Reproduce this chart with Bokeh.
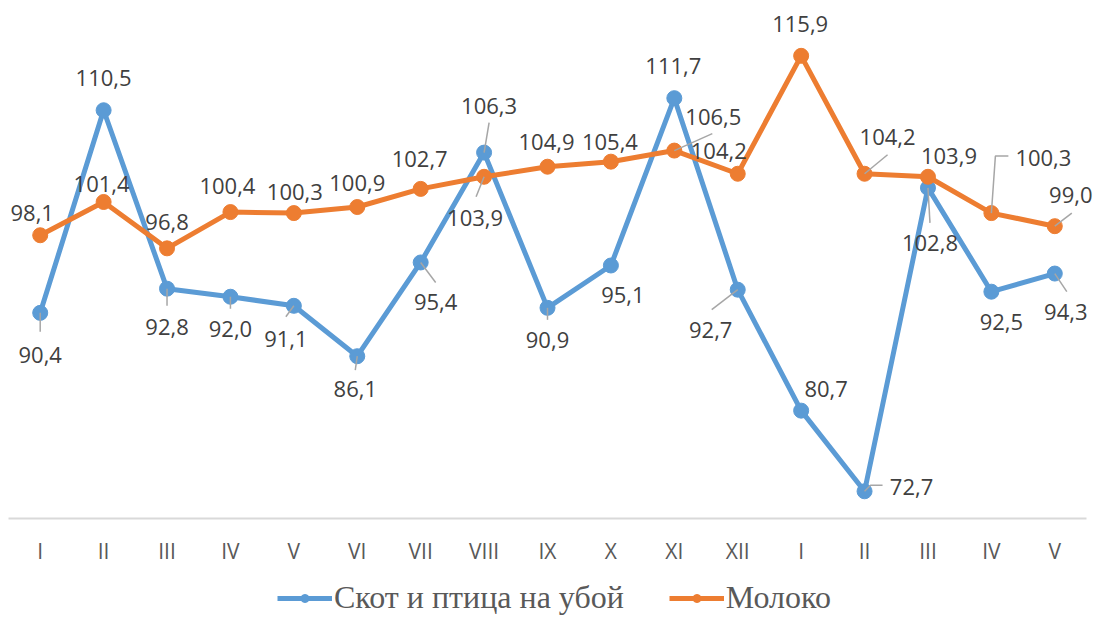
from bokeh.plotting import figure
from bokeh.models import Range1d, Legend, LegendItem, ColumnDataSource
from bokeh.core.properties import value
from bokeh.embed import file_html
from bokeh.resources import INLINE

# ---- data ----
categories = ["I", "II", "III", "IV", "V", "VI", "VII", "VIII", "IX", "X", "XI", "XII",
              "I", "II", "III", "IV", "V"]
livestock = [90.4, 110.5, 92.8, 92.0, 91.1, 86.1, 95.4, 106.3, 90.9, 95.1, 111.7, 92.7,
             80.7, 72.7, 102.8, 92.5, 94.3]
milk = [98.1, 101.4, 96.8, 100.4, 100.3, 100.9, 102.7, 103.9, 104.9, 105.4, 106.5, 104.2,
        115.9, 104.2, 103.9, 100.3, 99.0]
series_names = ["Скот и птица на убой", "Молоко"]
y_min, y_max = 70, 120

# ---- styles (label offsets in screen px, +dy = down) ----
blue_lab_dx = [0, 0, 0, 0, -8, -2, 15, 5, 0, 12, -1, -27, 25, 47, 2, 10, 11]
blue_lab_dy = [42, -32, 38, 32, 33, 33, 40, -47, 32, 30, -32, 40, -22, -4, 55, 30, 38]
milk_lab_dx = [-8, -2, 0, -3, 1, 0, -1, -9, -1, -1, 39, -19, -1, 23, 21, 52, 16]
milk_lab_dy = [-22, -18, -26, -26, -21, -24, -30, 41, -25, -20, -34, -23, -32, -37, -21, -55, -31]
blue_leaders = {0: [(0, 0), (0, 19)], 2: [(0, 0), (0, 17)], 3: [(0, 0), (0, 12)],
                4: [(0, 0), (-8, 11)], 5: [(0, 0), (-2, 14)], 6: [(0, 0), (15, 20)],
                7: [(0, 0), (5, -30)], 8: [(0, 0), (0, 12)], 11: [(0, 0), (-26, 20)],
                13: [(0, 0), (6, -6), (18, -6)], 14: [(0, 0), (2, 35)], 16: [(0, 0), (12, 18)]}
milk_leaders = {7: [(0, 0), (-8, 20)], 10: [(0, 0), (38, -17)], 13: [(0, 0), (23, -19)],
                15: [(0, 0), (4, -57), (17, -57)], 16: [(0, 0), (17, -13)]}

BLUE = "#5B9BD5"
ORANGE = "#ED7D31"
LABEL_FONT = "Open Sans"

# ---- layout (pixels) ----
W, H = 1097, 616
PLOT_L, PLOT_R = 8, 1086      # category band area
PLOT_T, PLOT_B = 14, 518      # y_max / y_min positions
n = len(categories)
px_x = (PLOT_R - PLOT_L) / n
px_y = (PLOT_B - PLOT_T) / (y_max - y_min)
x_start = -0.5 - PLOT_L / px_x
x_end = n - 0.5 + (W - PLOT_R) / px_x
y_top = y_max + PLOT_T / px_y
y_bot = y_min - (H - PLOT_B) / px_y

p = figure(width=W, height=H, x_range=Range1d(x_start, x_end), y_range=Range1d(y_bot, y_top),
           output_backend="svg", toolbar_location=None,
           x_axis_location=None, y_axis_location=None,
           min_border_left=0, min_border_right=0, min_border_top=0, min_border_bottom=0)
p.outline_line_color = None
p.xgrid.visible = False
p.ygrid.visible = False
p.background_fill_color = "white"
p.border_fill_color = "white"

xs = list(range(n))

# category axis: baseline across the category bands + tick labels
p.segment(x0=[-0.5], y0=[y_min], x1=[n - 0.5], y1=[y_min], line_color="#d9d9d9", line_width=2)
p.text(x=xs, y=[y_min] * n, text=categories, y_offset=32,
       text_align="center", text_baseline="middle",
       text_font=value("Open Sans"), text_font_size="21px", text_color="#595959")

src_b = ColumnDataSource(dict(x=xs, y=livestock,
                              lab=[f"{v:.1f}".replace(".", ",") for v in livestock],
                              dx=blue_lab_dx, dy=blue_lab_dy))
src_m = ColumnDataSource(dict(x=xs, y=milk,
                              lab=[f"{v:.1f}".replace(".", ",") for v in milk],
                              dx=milk_lab_dx, dy=milk_lab_dy))

lb = p.line("x", "y", source=src_b, line_color=BLUE, line_width=5)
sb = p.scatter("x", "y", source=src_b, size=15, fill_color=BLUE, line_color=BLUE)
lm = p.line("x", "y", source=src_m, line_color=ORANGE, line_width=5)
sm = p.scatter("x", "y", source=src_m, size=15, fill_color=ORANGE, line_color=ORANGE)


def leader_paths(vals, leaders):
    lx, ly = [], []
    for i, pts in leaders.items():
        lx.append([xs[i] + dx / px_x for dx, dy in pts])
        ly.append([vals[i] - dy / px_y for dx, dy in pts])
    return lx, ly


for vals, leaders in ((livestock, blue_leaders), (milk, milk_leaders)):
    lx, ly = leader_paths(vals, leaders)
    p.multi_line(lx, ly, line_color="#a6a6a6", line_width=1.5)

for src in (src_b, src_m):
    p.text("x", "y", text="lab", source=src, x_offset="dx", y_offset="dy",
           text_align="center", text_baseline="middle",
           text_font=value(LABEL_FONT), text_font_size="22px", text_color="#404040")

legend = Legend(items=[LegendItem(label=series_names[0], renderers=[lb, sb]),
                       LegendItem(label=series_names[1], renderers=[lm, sm])],
                orientation="horizontal", location=(277, 0),
                glyph_width=55, glyph_height=20, label_standoff=2, spacing=45,
                padding=0, margin=0, border_line_alpha=0, background_fill_alpha=0,
                label_text_font="Liberation Serif", label_text_font_size="32px",
                label_text_color="#595959", label_height=30)
p.add_layout(legend, "center")

open("out.html", "w").write(file_html(p, INLINE))
